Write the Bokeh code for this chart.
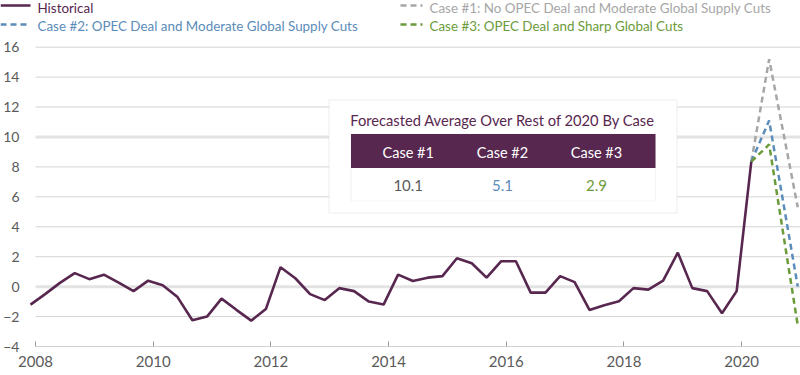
import pandas as pd
from bokeh.plotting import figure
from bokeh.layouts import column
from bokeh.core.properties import value
from bokeh.models import (Range1d, FixedTicker, BoxAnnotation, Label, NumeralTickFormatter)
from bokeh.embed import file_html
from bokeh.resources import INLINE

# ---------------- data ----------------
hist_dates = list(pd.date_range("2007-12-01", periods=50, freq="3MS"))
hist_values = [-1.2, -0.5, 0.25, 0.9, 0.5, 0.8, 0.27, -0.3, 0.4, 0.1,
               -0.7, -2.25, -2.0, -0.8, -1.55, -2.27, -1.5, 1.3, 0.56, -0.5,
               -0.9, -0.1, -0.3, -1.0, -1.2, 0.8, 0.38, 0.6, 0.7, 1.9,
               1.56, 0.6, 1.7, 1.7, -0.4, -0.4, 0.7, 0.3, -1.56, -1.24,
               -0.98, -0.1, -0.2, 0.4, 2.27, -0.1, -0.3, -1.78, -0.3, 8.35]
case_dates = ["2020-03-01", "2020-06-20", "2020-12-15"]
case1_values = [8.35, 15.2, 5.3]
case2_values = [8.35, 11.1, 0.0]
case3_values = [8.35, 9.5, -2.6]
series_names = ["Historical",
                "Case #1: No OPEC Deal and Moderate Global Supply Cuts",
                "Case #2: OPEC Deal and Moderate Global Supply Cuts",
                "Case #3: OPEC Deal and Sharp Global Cuts"]
table_title = "Forecasted Average Over Rest of 2020 By Case"
table_cases = ["Case #1", "Case #2", "Case #3"]
table_values = ["10.1", "5.1", "2.9"]
x_ticks = [2008, 2010, 2012, 2014, 2016, 2018, 2020]
y_ticks = [-4, -2, 0, 2, 4, 6, 8, 10, 12, 14, 16]


def dec_year(d):
    d = pd.Timestamp(d)
    days = 366 if d.is_leap_year else 365
    return d.year + (d.dayofyear - 1) / days


hist_x = [dec_year(d) for d in hist_dates]
case_x = [dec_year(d) for d in case_dates]

# ---------------- styles ----------------
PURPLE = "#58274f"
GRAY = "#a6a6a6"
BLUE = "#5b8cba"
GREEN = "#6b9b3a"
TXT = "#5a5a5a"
FONT = "Lato"
DASH = "6 4"

LEG_H = 34            # height of the legend strip
FR_L, FR_B = 28, 346  # main frame left / bottom in page px
TXT_SHIFT = 5         # compensation for the text baseline offset


def sx(px):
    return px - FR_L


def sy(py):
    return FR_B - py


# ---------------- legend strip (pixel coordinates) ----------------
leg = figure(title=None, width=800, height=LEG_H, output_backend="svg",
             toolbar_location=None,
             x_range=Range1d(0, 800), y_range=Range1d(0, LEG_H),
             x_axis_location=None, y_axis_location=None,
             min_border=0, outline_line_color=None, frame_align=False,
             background_fill_color="white", border_fill_color="white")
leg.grid.visible = False

legend_spec = [  # (name, colour, dash, swatch x0, swatch x1, row centre y, text nudge)
    (series_names[0], PURPLE, "solid", 0, 30, 5, 2.0),
    (series_names[2], BLUE, DASH, 0, 30, 24, 1.0),
    (series_names[1], GRAY, DASH, 400, 422, 5, 2.0),
    (series_names[3], GREEN, DASH, 400, 422, 24, 1.0),
]
for name, col, dash, x0, x1, yc, nudge in legend_spec:
    leg.segment(x0=[x0], x1=[x1], y0=[LEG_H - yc], y1=[LEG_H - yc],
                line_color=col, line_width=2.6, line_dash=dash)
    leg.text(x=[x1 + 7], y=[LEG_H - (yc + 5.5 - TXT_SHIFT + nudge)], text=[name],
             text_font=value(FONT), text_font_size="13.4px",
             text_color=col, text_baseline="alphabetic", text_align="left")

# ---------------- main chart ----------------
p = figure(title=None, width=800, height=375 - LEG_H, output_backend="svg",
           toolbar_location=None,
           x_range=Range1d(2008 - 6 / 58.92, 2021.0),
           y_range=Range1d(-4, 16 + (46.7 - LEG_H) / 15),
           min_border_left=FR_L, min_border_right=0, min_border_top=0,
           min_border_bottom=29, outline_line_color=None, frame_align=False,
           background_fill_color="white", border_fill_color="white")
p.grid.visible = False

# gridlines
g_col, g_w = [], []
for t in y_ticks:
    if t == -4:
        g_col.append("#a3a3a3"); g_w.append(1.2)
    elif t in (0, 10):
        g_col.append("#e3e3e3"); g_w.append(3)
    else:
        g_col.append("#d4d4d4"); g_w.append(1)
p.segment(x0=[x_ticks[0]] * len(y_ticks), x1=[2021.0] * len(y_ticks),
          y0=y_ticks, y1=y_ticks, line_color=g_col, line_width=g_w)

# axes
xa = p.xaxis[0]
xa.axis_label = None
xa.axis_label_standoff = 0
xa.ticker = FixedTicker(ticks=x_ticks)
xa.formatter = NumeralTickFormatter(format="0")
xa.axis_line_color = None
xa.major_tick_in = 5
xa.major_tick_out = 0
xa.major_tick_line_color = "#9a9a9a"
xa.minor_tick_line_color = None
xa.major_label_standoff = 9
xa.major_label_text_font = FONT
xa.major_label_text_font_size = "15px"
xa.major_label_text_color = TXT

ya = p.yaxis[0]
ya.axis_label = None
ya.axis_label_standoff = 0
ya.ticker = FixedTicker(ticks=y_ticks)
ya.axis_line_color = None
ya.major_tick_line_color = None
ya.major_tick_in = 0
ya.major_tick_out = 0
ya.minor_tick_line_color = None
ya.major_label_standoff = 10
ya.major_label_text_font = FONT
ya.major_label_text_font_size = "14px"
ya.major_label_text_color = TXT

# series
p.line(case_x, case1_values, line_color=GRAY, line_width=2.5, line_dash=DASH)
p.line(case_x, case2_values, line_color=BLUE, line_width=2.5, line_dash=DASH)
p.line(case_x, case3_values, line_color=GREEN, line_width=2.5, line_dash=DASH)
p.line(hist_x, hist_values, line_color=PURPLE, line_width=2.6)


# table
def box(l, r, t, b, **kw):
    p.add_layout(BoxAnnotation(left=sx(l), right=sx(r), top=sy(t), bottom=sy(b),
                               left_units="screen", right_units="screen",
                               top_units="screen", bottom_units="screen", **kw))


box(327.5, 675.5, 99.5, 212.5, fill_color="white", fill_alpha=1,
    line_color="#d6d6d6", line_width=1.5)
box(349.5, 654, 133.5, 200.5, fill_alpha=0, line_color="#dcdcdc", line_width=1.2)
box(349.5, 654, 133.5, 167.5, fill_color=PURPLE, fill_alpha=1, line_color=None)


def label(cx, base_py, text, size, color):
    p.add_layout(Label(x=sx(cx), y=sy(base_py - TXT_SHIFT), x_units="screen",
                       y_units="screen", text=text, text_align="center",
                       text_baseline="alphabetic", text_font=FONT,
                       text_font_size=size, text_color=color))


label(501.3, 124.3, table_title, "14.7px", PURPLE)
centers = [406.7, 501, 595]
val_colors = [TXT, BLUE, GREEN]
for c, name, v, vc in zip(centers, table_cases, table_values, val_colors):
    label(c, 156.7, name, "14.5px", "white")
    label(c, 190.0, v, "15px", vc)

layout = column(leg, p, spacing=0)
open("out.html", "w").write(file_html(layout, INLINE))
